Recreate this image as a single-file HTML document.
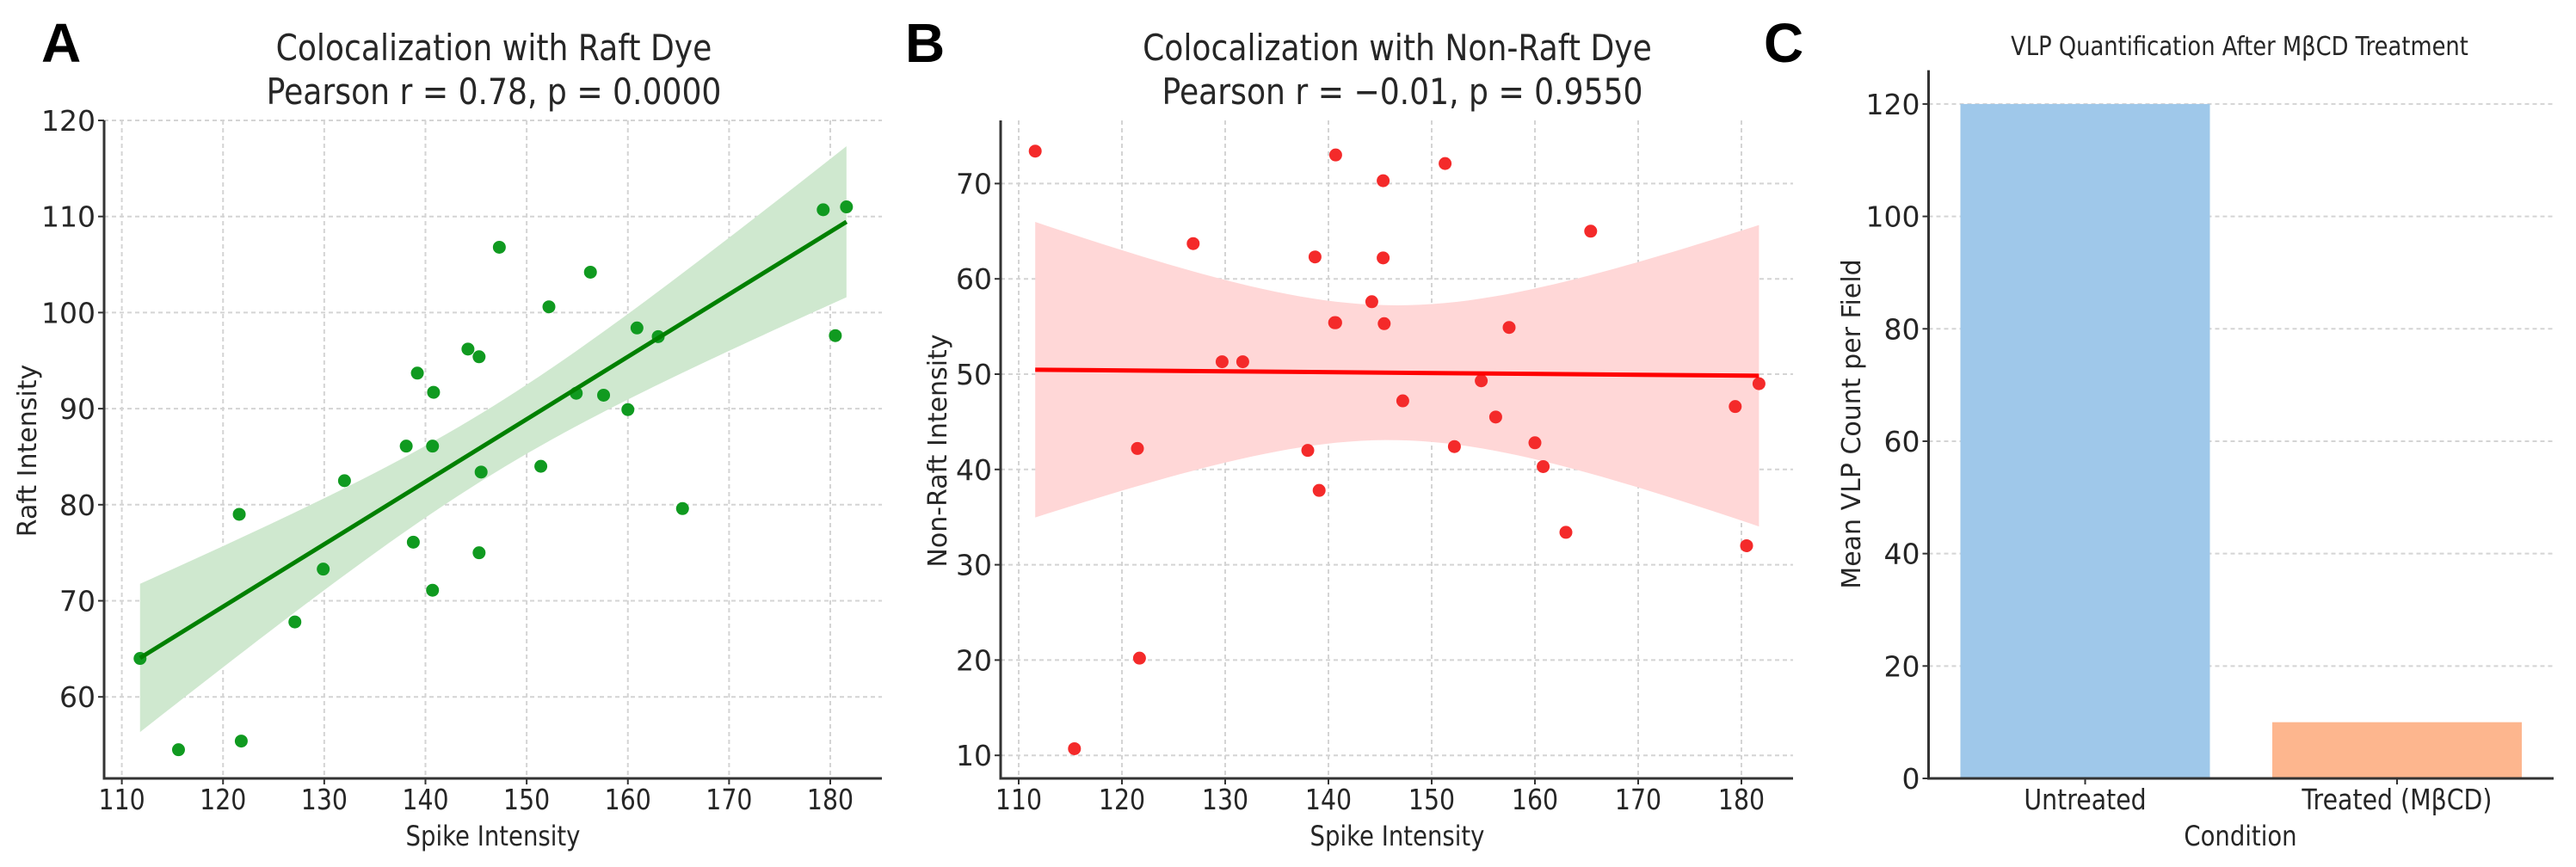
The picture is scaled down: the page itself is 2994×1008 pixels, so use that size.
<!DOCTYPE html>
<html><head><meta charset="utf-8">
<style>
html,body{margin:0;padding:0;background:#fff;}
svg{display:block;}
text{font-family:"DejaVu Sans","Liberation Sans",sans-serif;fill:#262626;}
.sx{transform-box:fill-box;transform-origin:center;transform:scaleX(0.86);}
.letter{font-family:"Liberation Sans",sans-serif;font-weight:bold;fill:#000;}
</style></head>
<body>
<svg id="fig" width="2994" height="1008" viewBox="0 0 2994 1008" xmlns="http://www.w3.org/2000/svg">
<rect width="2994" height="1008" fill="#fff"/>
<text class="letter" x="48" y="72" font-size="64">A</text>
<text class="letter" x="1052" y="72" font-size="64">B</text>
<text class="letter" x="2050" y="72" font-size="64">C</text>

<text class="sx" x="574" y="70" font-size="42" text-anchor="middle">Colocalization with Raft Dye</text>
<text class="sx" x="574" y="121" font-size="42" text-anchor="middle">Pearson r = 0.78, p = 0.0000</text>
<text class="sx" x="1624" y="70" font-size="42" text-anchor="middle">Colocalization with Non-Raft Dye</text>
<text class="sx" x="1630" y="121" font-size="42" text-anchor="middle">Pearson r = −0.01, p = 0.9550</text>
<text class="sx" x="2603" y="64" font-size="30" text-anchor="middle">VLP Quantification After MβCD Treatment</text>

<text class="sx" x="573" y="983" font-size="32" text-anchor="middle">Spike Intensity</text>
<text class="sx" x="1624" y="983" font-size="32" text-anchor="middle">Spike Intensity</text>
<text class="sx" x="2604" y="983" font-size="32" text-anchor="middle">Condition</text>
<text x="0" y="0" font-size="30" text-anchor="middle" transform="translate(42,524) rotate(-90)">Raft Intensity</text>
<text x="0" y="0" font-size="30" text-anchor="middle" transform="translate(1100,524) rotate(-90)">Non-Raft Intensity</text>
<text x="0" y="0" font-size="30" text-anchor="middle" transform="translate(2162,493) rotate(-90)">Mean VLP Count per Field</text>
<g id="layer"></g>
</svg>
<script>
const spikeA = [111.8,115.6,121.6,121.8,127.1,129.9,132.0,138.1,138.8,139.2,140.7,140.8,140.7,144.2,145.3,145.5,145.3,147.3,151.4,152.2,154.9,156.3,157.6,160.0,160.9,163.0,165.4,179.3,180.5,181.6];
const raftA = [64.0,54.5,79.0,55.4,67.8,73.3,82.5,86.1,76.1,93.7,86.1,91.7,71.1,96.2,95.4,83.4,75.0,106.8,84.0,100.6,91.6,104.2,91.4,89.9,98.4,97.5,79.6,110.7,97.6,111.0];
const spikeB = [111.6,115.4,121.5,121.7,126.9,129.7,131.7,138.0,138.7,139.1,140.6,140.7,140.7,144.2,145.3,145.3,145.4,147.2,151.3,152.2,154.8,156.2,157.5,160.0,160.8,163.0,165.4,179.4,180.5,181.7];
const nonRaftB = [73.4,10.7,42.2,20.2,63.7,51.3,51.3,42.0,62.3,37.8,55.4,55.4,73.0,57.6,70.3,62.2,55.3,47.2,72.1,42.4,49.3,45.5,54.9,42.8,40.3,33.4,65.0,46.6,32.0,49.0];
const xTicks = [110,120,130,140,150,160,170,180];
const yTicksA = [60,70,80,90,100,110,120];
const yTicksB = [10,20,30,40,50,60,70];
const categories = ["Untreated","Treated (MβCD)"];
const vlpCounts = [120,10];
const yTicksC = [0,20,40,60,80,100,120];

const NS = "http://www.w3.org/2000/svg";
const layer = document.getElementById('layer');
function el(tag, attrs, parent){
  const e = document.createElementNS(NS, tag);
  for (const k in attrs) e.setAttribute(k, attrs[k]);
  (parent||layer).appendChild(e);
  return e;
}

function scatterPanel(cfg){
  const g = el('g', {});
  
  
  const X = v => cfg.x0 + (v - cfg.xv0) * cfg.xk;
  const Y = v => cfg.y0 + (cfg.yv0 - v) * cfg.yk;
  cfg.xt.forEach(t => {
    const l = el('line', {x1:X(t), x2:X(t), y1:cfg.top, y2:cfg.bottom, stroke:'#d4d4d4', 'stroke-width':2, 'stroke-dasharray':'5,4'}, g);
    
    
  });
  cfg.yt.forEach(t => {
    const l = el('line', {x1:cfg.left, x2:cfg.right, y1:Y(t), y2:Y(t), stroke:'#d4d4d4', 'stroke-width':2, 'stroke-dasharray':'5,4'}, g);
    
    
  });
  const xs = cfg.xs, ys = cfg.ys, n = xs.length;
  const mx = xs.reduce((a,b)=>a+b,0)/n, my = ys.reduce((a,b)=>a+b,0)/n;
  let sxx=0, sxy=0; for (let i=0;i<n;i++){ sxx+=(xs[i]-mx)**2; sxy+=(xs[i]-mx)*(ys[i]-my); }
  const b = sxy/sxx, a = my - b*mx;
  let sse=0; for (let i=0;i<n;i++) sse += (ys[i]-a-b*xs[i])**2;
  const s = Math.sqrt(sse/(n-2)), tcrit = 2.048 * cfg.ciScale;
  const xmin = Math.min(...xs), xmax = Math.max(...xs);
  const up=[], lo=[];
  for (let k=0;k<=60;k++){
    const xv = xmin + (xmax-xmin)*k/60;
    const se = s*Math.sqrt(1/n + (xv-mx)**2/sxx);
    const yv = a + b*xv;
    up.push(X(xv)+','+Y(yv + tcrit*se));
    lo.unshift(X(xv)+','+Y(yv - tcrit*se));
  }
  const band = el('polygon', {points: up.concat(lo).join(' '), fill: cfg.band}, g);
  
  
  for (let i=0;i<n;i++){
    const c = el('circle', {cx:X(xs[i]), cy:Y(ys[i]), r:7.5, fill:cfg.dot}, g);
    
    
  }
  const rl = el('line', {x1:X(xmin), y1:Y(a+b*xmin), x2:X(xmax), y2:Y(a+b*xmax), stroke:cfg.line, 'stroke-width':5}, g);
  
  
  const sp = el('path', {d:`M${cfg.left},${cfg.top} V${cfg.bottom} H${cfg.right}`, fill:'none', stroke:'#333', 'stroke-width':3}, g);
  
  
  cfg.xt.forEach(t => {
    el('line', {x1:X(t), x2:X(t), y1:cfg.bottom, y2:cfg.bottom+7, stroke:'#333', 'stroke-width':2}, g);
    const tx = el('text', {x:X(t), y:941, 'font-size':33, 'text-anchor':'middle', class:'sx'}, g);
    tx.textContent = t;
    
    
  });
  cfg.yt.forEach(t => {
    el('line', {x1:cfg.left-7, x2:cfg.left, y1:Y(t), y2:Y(t), stroke:'#333', 'stroke-width':2}, g);
    const tx = el('text', {x:cfg.left-10, y:Y(t)+12, 'font-size':33, 'text-anchor':'end'}, g);
    tx.textContent = t;
    
    
  });
}

scatterPanel({name:'panel-a-scatter', xs:spikeA, ys:raftA, xt:xTicks, yt:yTicksA,
  x0:141.6, xv0:110, xk:11.763, y0:140, yv0:120, yk:11.17,
  left:121, right:1025, top:140, bottom:905, ciScale:1.0,
  dot:'#109a20', line:'#008000', band:'#cfe8cf'});
scatterPanel({name:'panel-b-scatter', xs:spikeB, ys:nonRaftB, xt:xTicks, yt:yTicksB,
  x0:1184, xv0:110, xk:12.0, y0:213.4, yv0:70, yk:11.08,
  left:1163, right:2084, top:140, bottom:905, ciScale:1.25,
  dot:'#f42a2a', line:'#ff0000', band:'#ffd7d7'});

(function(){
  const g = el('g', {});
  
  
  const left=2241.5, right=2968, top=81.6, bottom=905;
  const Y = v => bottom - v*6.534;
  const X = i => 2423.5 + i*362.5;
  const bw = 0.8*362.5;
  const colors = ['#9fc8ea','#fdb68e'];
  yTicksC.forEach(t => {
    const l = el('line', {x1:left, x2:right, y1:Y(t), y2:Y(t), stroke:'#d4d4d4', 'stroke-width':2, 'stroke-dasharray':'5,4'}, g);
    
    
  });
  categories.forEach((c,i) => {
    const r = el('rect', {x:X(i)-bw/2, y:Y(vlpCounts[i]), width:bw, height:bottom-Y(vlpCounts[i]), fill:colors[i]}, g);
    
    
    el('line', {x1:X(i), x2:X(i), y1:bottom, y2:bottom+7, stroke:'#333', 'stroke-width':2}, g);
    const tx = el('text', {x:X(i), y:941, 'font-size':33, 'text-anchor':'middle', class:'sx'}, g);
    tx.textContent = c;
    
    
  });
  const sp = el('path', {d:`M${left},${top} V${bottom} H${right}`, fill:'none', stroke:'#333', 'stroke-width':3}, g);
  
  
  yTicksC.forEach(t => {
    el('line', {x1:left-7, x2:left, y1:Y(t), y2:Y(t), stroke:'#333', 'stroke-width':2}, g);
    const tx = el('text', {x:left-10, y:Y(t)+12, 'font-size':33, 'text-anchor':'end'}, g);
    tx.textContent = t;
    
    
  });
})();
</script>
</body></html>
